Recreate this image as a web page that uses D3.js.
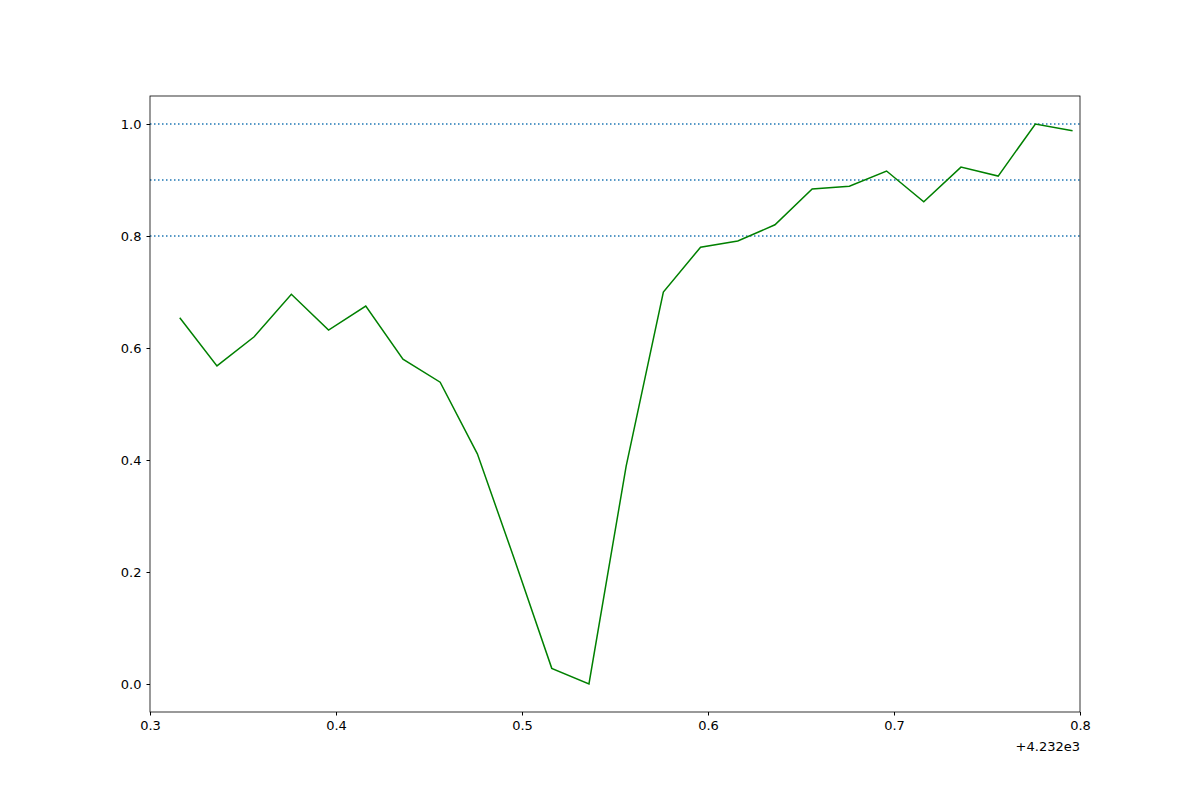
<!DOCTYPE html>
<html>
<head>
<meta charset="utf-8">
<script src="https://cdn.jsdelivr.net/npm/d3@7"></script>
<style>
  body { margin: 0; background: #fff; }
  text { font-family: "DejaVu Sans", sans-serif; }
</style>
</head>
<body>
<div id="container"></div>
<script>
// x values are shown as offset from 4232
var xOffset = 4232;
var xs = [4232.316, 4232.336, 4232.356, 4232.376, 4232.396, 4232.416, 4232.436, 4232.456, 4232.476, 4232.496,
          4232.516, 4232.536, 4232.556, 4232.576, 4232.596, 4232.616, 4232.636, 4232.656, 4232.676, 4232.696,
          4232.716, 4232.736, 4232.756, 4232.776, 4232.796];
var ys = [0.654, 0.568, 0.620, 0.696, 0.632, 0.675, 0.580, 0.539, 0.411, 0.222,
          0.028, 0.0, 0.389, 0.700, 0.780, 0.791, 0.820, 0.884, 0.889, 0.916,
          0.861, 0.923, 0.907, 1.0, 0.988];
var hlines = [0.8, 0.9, 1.0];
var xTicks = [0.3, 0.4, 0.5, 0.6, 0.7, 0.8];
var yTicks = [0.0, 0.2, 0.4, 0.6, 0.8, 1.0];

var width = 1200, height = 800;
var mLeft = 150, mRight = 1080, mTop = 96, mBottom = 712;

var svg = d3.select("#container").append("svg")
  .attr("width", width).attr("height", height);

var x = d3.scaleLinear().domain([0.3, 0.8]).range([mLeft, mRight]);
var y = d3.scaleLinear().domain([-0.05, 1.05]).range([mBottom, mTop]);

svg.selectAll("line.h").data(hlines).enter().append("line")
  .attr("x1", mLeft).attr("x2", mRight)
  .attr("y1", function(d) { return y(d); }).attr("y2", function(d) { return y(d); })
  .attr("stroke", "#1f77b4").attr("stroke-width", 1.5)
  .attr("stroke-dasharray", "1.5,2.5");

var line = d3.line()
  .x(function(d, i) { return x(xs[i] - xOffset); })
  .y(function(d) { return y(d); });

svg.append("path").datum(ys)
  .attr("d", line)
  .attr("fill", "none").attr("stroke", "green").attr("stroke-width", 1.5);

svg.append("rect")
  .attr("x", mLeft).attr("y", mTop)
  .attr("width", mRight - mLeft).attr("height", mBottom - mTop)
  .attr("fill", "none").attr("stroke", "#000").attr("stroke-width", 0.8);

var xAxis = svg.append("g").attr("transform", "translate(0," + mBottom + ")")
  .call(d3.axisBottom(x).tickValues(xTicks).tickSize(3.5).tickPadding(5).tickFormat(d3.format(".1f")));
var yAxis = svg.append("g").attr("transform", "translate(" + mLeft + ",0)")
  .call(d3.axisLeft(y).tickValues(yTicks).tickSize(3.5).tickPadding(5).tickFormat(d3.format(".1f")));
[xAxis, yAxis].forEach(function(a) {
  a.select(".domain").remove();
  a.selectAll("text").attr("font-size", 13).attr("fill", "#000")
    .style("font-family", "DejaVu Sans, sans-serif");
});

svg.append("text")
  .attr("x", mRight).attr("y", 751)
  .attr("text-anchor", "end").attr("font-size", 13)
  .text("+4.232e3");
</script>
</body>
</html>
